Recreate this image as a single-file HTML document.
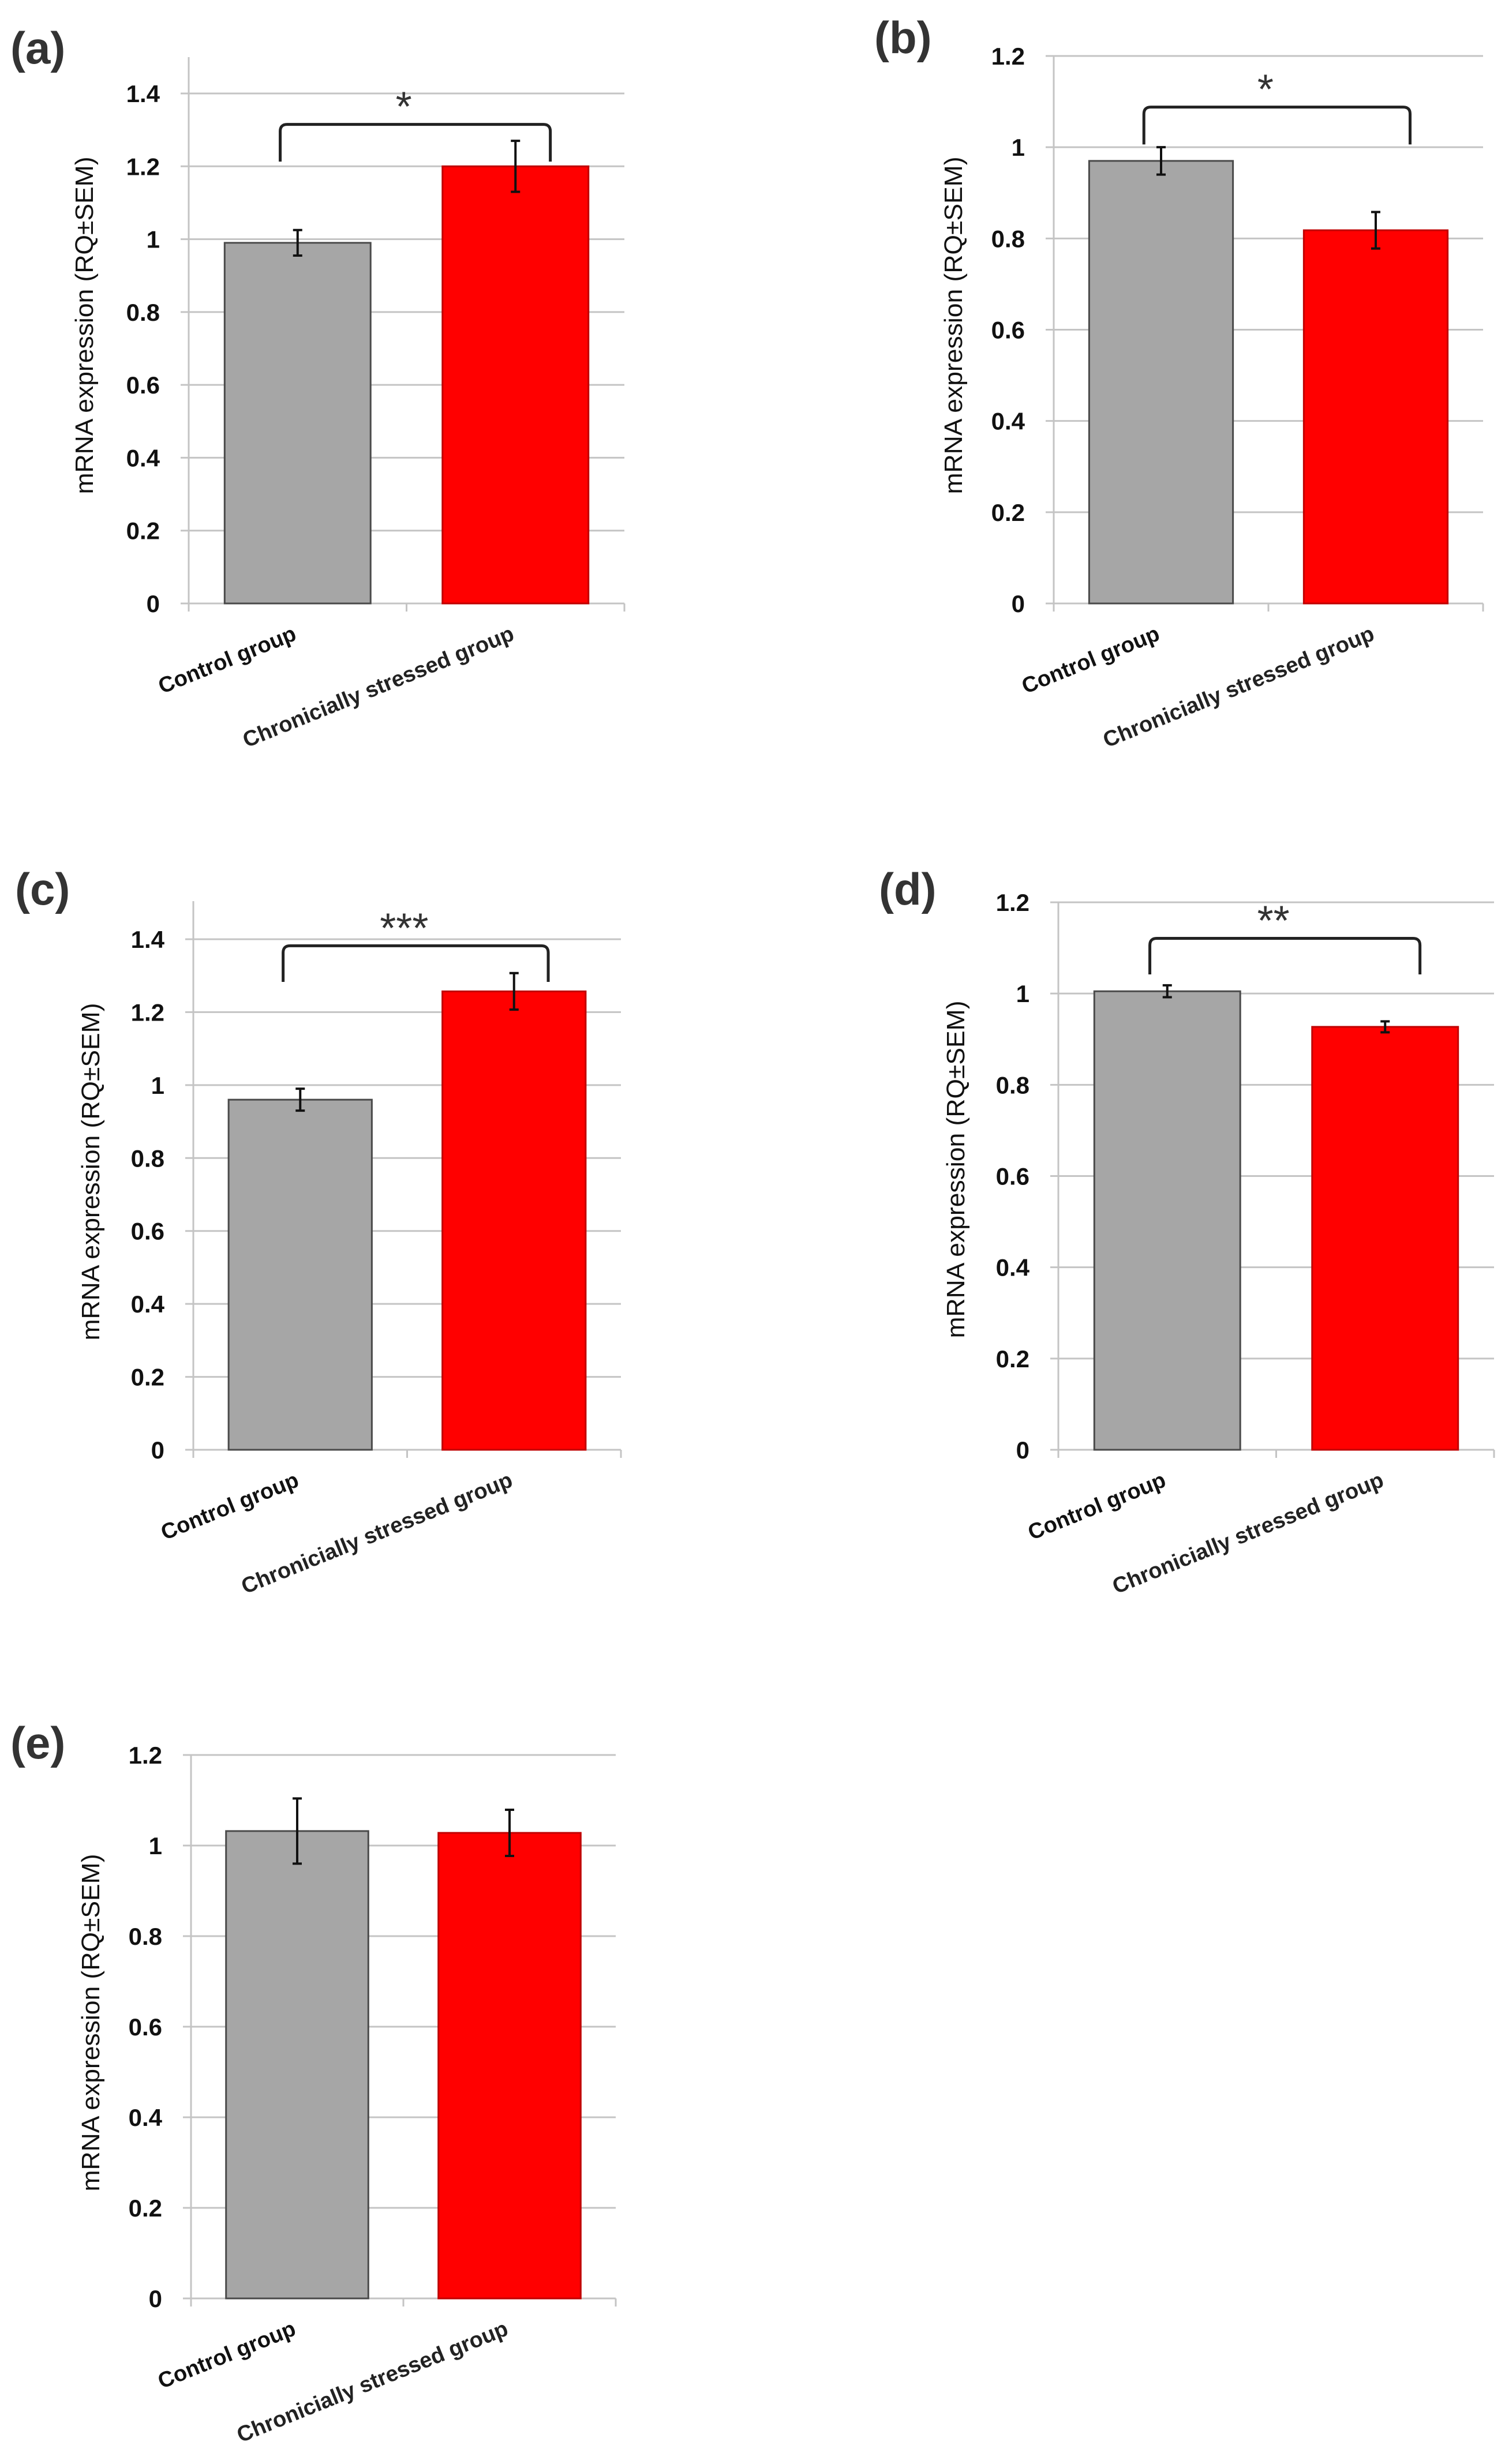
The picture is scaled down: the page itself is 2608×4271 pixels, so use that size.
<!DOCTYPE html>
<html><head><meta charset="utf-8">
<style>
html,body{margin:0;padding:0;background:#fff;}
svg{display:block;}
text{font-family:"Liberation Sans",Arial,sans-serif;}
</style></head>
<body>
<svg id="fig" width="2608" height="4271" viewBox="0 0 2608 4271" xmlns="http://www.w3.org/2000/svg"></svg>
<script>
// ---- data ----
const categories = ["Control group", "Chronicially stressed group"];
const panelLabels = ["(a)", "(b)", "(c)", "(d)", "(e)"];
const controlValues = [0.99, 0.97, 0.96, 1.005, 1.032];
const stressedValues = [1.20, 0.818, 1.257, 0.927, 1.028];
const controlErrors = [0.035, 0.03, 0.03, 0.013, 0.072];
const stressedErrors = [0.07, 0.04, 0.05, 0.012, 0.051];
const yMaxValues = [1.4, 1.2, 1.4, 1.2, 1.2];
const ticksA = ["0", "0.2", "0.4", "0.6", "0.8", "1", "1.2", "1.4"];
const ticksB = ["0", "0.2", "0.4", "0.6", "0.8", "1", "1.2"];
const significance = ["*", "*", "***", "**", ""];
const bracketTops = [1.315, 1.088, 1.382, 1.121, 0];
const bracketLegs = [1.213, 1.006, 1.283, 1.042, 0];

// ---- layout ----
const layout = [
  {x0:327, x1:1082, yTop:162, yBase:1046, axisTop:99, lab:[18,110], title:[146,564]},
  {x0:1826, x1:2570, yTop:97, yBase:1046, axisTop:97, lab:[1515,92], title:[1652,564]},
  {x0:335, x1:1076, yTop:1628, yBase:2513, axisTop:1562, lab:[26,1568], title:[157,2031]},
  {x0:1834, x1:2589, yTop:1564, yBase:2513, axisTop:1564, lab:[1523,1568], title:[1656,2027]},
  {x0:331, x1:1067, yTop:3042, yBase:3984, axisTop:3042, lab:[18,3048], title:[157,3506]}
];
const NS = "http://www.w3.org/2000/svg";
const svg = document.getElementById('fig');
function mk(tag, attrs, parent, txt){
  const e = document.createElementNS(NS, tag);
  for (const k in attrs) e.setAttribute(k, attrs[k]);
  if (txt !== undefined) e.textContent = txt;
  (parent||svg).appendChild(e);
  return e;
}

layout.forEach((L, i) => {
  const g = mk('g', {});
  
  
  const ymax = yMaxValues[i];
  const ticks = ymax > 1.3 ? ticksA : ticksB;
  const yScale = v => L.yBase - (v / ymax) * (L.yBase - L.yTop);
  const catW = (L.x1 - L.x0) / categories.length;
  const xCenter = k => L.x0 + catW * (k + 0.5);
  const barW = catW * 0.67;

  const pl = mk('text', {x:L.lab[0], y:L.lab[1], 'font-size':78, 'font-weight':'bold', fill:'#333'}, g, panelLabels[i]);
  
  

  ticks.forEach(t => {
    const v = parseFloat(t);
    const y = yScale(v);
    const gl = mk('line', {x1:L.x0 - 14, x2:L.x1, y1:y, y2:y, stroke:'#c4c4c4', 'stroke-width':3}, g);
    
    
    const tl = mk('text', {x:L.x0 - 50, y:y + 15, 'font-size':42, 'font-weight':'bold', 'text-anchor':'end', fill:'#111'}, g, t);
    
    
  });
  const ya = mk('line', {x1:L.x0, x2:L.x0, y1:L.axisTop, y2:L.yBase + 14, stroke:'#c4c4c4', 'stroke-width':3}, g);
  
  
  for (let k = 0; k <= categories.length; k++) {
    const x = L.x0 + catW * k;
    const tm = mk('line', {x1:x, x2:x, y1:L.yBase, y2:L.yBase + 14, stroke:'#c4c4c4', 'stroke-width':3}, g);
    
    
  }

  const vals = [controlValues[i], stressedValues[i]];
  const errs = [controlErrors[i], stressedErrors[i]];
  const fills = ['#a6a6a6', '#ff0000'];
  const strokes = ['#4a4a4a', '#c00000'];
  vals.forEach((v, k) => {
    const cx = xCenter(k);
    const yv = yScale(v);
    const b = mk('rect', {x:cx - barW/2, y:yv, width:barW, height:L.yBase - yv, fill:fills[k], stroke:strokes[k], 'stroke-width':3}, g);
    
    
    const e1 = yScale(v + errs[k]), e2 = yScale(v - errs[k]);
    const eb = mk('path', {d:`M${cx},${e1}V${e2}M${cx-8},${e1}H${cx+8}M${cx-8},${e2}H${cx+8}`, stroke:'#111', 'stroke-width':4, fill:'none'}, g);
    
    
    const xl = mk('text', {x:0, y:0, 'font-size':38, 'font-weight':'bold', 'text-anchor':'end', fill: k===0 ? '#111' : '#222',
      transform:`translate(${cx},${L.yBase + 62}) rotate(-22)`}, g, categories[k]);
    
    
  });

  if (significance[i]) {
    const xa = L.x0 + (L.x1 - L.x0) * 0.21, xb = L.x0 + (L.x1 - L.x0) * 0.83;
    const yt = yScale(bracketTops[i]), yl = yScale(bracketLegs[i]);
    const br = mk('path', {d:`M${xa},${yl}V${yt+12}Q${xa},${yt} ${xa+12},${yt}H${xb-12}Q${xb},${yt} ${xb},${yt+12}V${yl}`, stroke:'#222', 'stroke-width':5, fill:'none'}, g);
    
    
    const st = mk('text', {x:(xa+xb)/2 - 20, y:yt - 6, 'font-size':72, 'text-anchor':'middle', fill:'#333'}, g, significance[i]);
    
    
  }

  const yt = mk('text', {x:0, y:0, 'font-size':44, 'text-anchor':'middle', fill:'#111',
    transform:`translate(${L.title[0] + 15},${L.title[1]}) rotate(-90)`, textLength:585, lengthAdjust:'spacingAndGlyphs'}, g, 'mRNA expression (RQ±SEM)');
  
  
});
</script>
</body></html>
